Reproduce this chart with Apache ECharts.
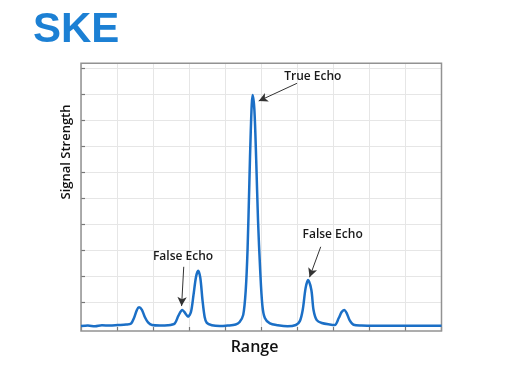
<!DOCTYPE html>
<html>
<head>
<meta charset="utf-8">
<script src="https://cdn.jsdelivr.net/npm/echarts@6/dist/echarts.min.js"></script>
<style>
html,body{margin:0;padding:0;background:#fff;}
#c{width:510px;height:380px;}
</style>
</head>
<body>
<div id="c"></div>
<script>
// Range positions (grid units 0..10)
const rangeX = [0,0.19,0.39,0.58,0.80,1.02,1.25,1.39,1.47,1.55,1.61,1.69,1.77,1.86,1.97,2.19,2.41,2.60,2.70,2.81,2.89,2.97,3.05,3.12,3.19,3.25,3.31,3.37,3.43,3.49,3.63,3.85,4.07,4.29,4.40,4.50,4.57,4.62,4.67,4.71,4.76,4.81,4.86,4.91,4.97,5.03,5.10,5.24,5.46,5.73,5.96,6.07,6.15,6.23,6.30,6.39,6.45,6.54,6.68,6.90,7.04,7.15,7.23,7.30,7.37,7.45,7.56,7.78,8.14,8.56,9.11,9.67,10];
// Signal strength values
const signal = [0.19,0.21,0.18,0.22,0.21,0.23,0.25,0.29,0.50,0.81,0.91,0.81,0.54,0.33,0.23,0.21,0.22,0.29,0.58,0.81,0.69,0.55,0.73,1.38,2.08,2.32,2.04,1.19,0.54,0.31,0.22,0.19,0.21,0.25,0.35,0.62,1.58,3.12,5.69,7.73,9.08,8.50,6.58,4.27,2.35,1.00,0.50,0.29,0.22,0.18,0.23,0.38,0.81,1.65,1.96,1.58,0.81,0.42,0.31,0.25,0.23,0.50,0.73,0.81,0.69,0.42,0.24,0.21,0.20,0.20,0.20,0.20,0.20];
// Annotations
const annoLabels = ['True Echo','False Echo','False Echo'];
const annoText = [[6.43,9.78],[2.83,2.86],[6.98,3.72]];
const annoArrowFrom = [[5.99,9.53],[2.85,2.47],[6.65,3.24]];
const annoArrowTo = [[4.93,8.85],[2.79,0.96],[6.34,2.07]];
// Titles
const logoText = 'SKE';
const xTitle = 'Range';
const yTitle = 'Signal Strength';

const chart = echarts.init(document.getElementById('c'), null, {renderer:'canvas'});
const font = '"Open Sans", "Noto Sans", sans-serif';
const seriesData = rangeX.map((x,i)=>[x, signal[i]]);

chart.setOption({
  animation:false,
  backgroundColor:'#ffffff',
  graphic:[
    {type:'text', left:33, top:9,
     style:{text:logoText, fill:'#1c80d4', font:'bold 42px "Liberation Sans", Arial, sans-serif'}},
    {type:'text', x:254.5, y:347,
     style:{text:xTitle, fill:'#111', align:'center', verticalAlign:'middle',
            font:'600 16px "Open Sans", "Noto Sans", sans-serif'}},
    {type:'text', x:66.5, y:152, rotation:Math.PI/2,
     style:{text:yTitle, fill:'#111', align:'center', verticalAlign:'middle',
            font:'600 13px "Open Sans", "Noto Sans", sans-serif'}}
  ],
  grid:[
    {left:81, right:68.5, top:63.3, bottom:49, show:true, borderColor:'#929292', borderWidth:1.5, backgroundColor:'transparent', z:3},
    {left:81, right:68.5, top:68.3, bottom:77.7, show:false}
  ],
  xAxis:[
    {type:'value', gridIndex:0, min:0, max:10, interval:1,
     axisLine:{show:false}, axisLabel:{show:false},
     axisTick:{show:true, inside:true, length:4, lineStyle:{color:'#777', width:1.2}},
     splitLine:{show:true, lineStyle:{color:'#e6e6e6', width:1}}},
    {type:'value', gridIndex:1, min:0, max:10, show:false}
  ],
  yAxis:[
    {type:'value', gridIndex:0, min:0, max:10.3,
     axisLine:{show:false}, axisLabel:{show:false}, axisTick:{show:false},
     splitLine:{show:false}},
    {type:'value', gridIndex:1, min:0, max:9, interval:1,
     axisLine:{show:false}, axisLabel:{show:false},
     axisTick:{show:true, inside:true, length:4, lineStyle:{color:'#777', width:1.2}},
     splitLine:{show:true, lineStyle:{color:'#e6e6e6', width:1}}}
  ],
  series:[{
    type:'line', xAxisIndex:0, yAxisIndex:0,
    data:seriesData, smooth:0.3, showSymbol:false, symbol:'none',
    lineStyle:{color:'#1b6fc6', width:2.5},
    z:5,
    markLine:{
      silent:true, symbol:['none','arrow'], symbolSize:[7,9],
      lineStyle:{color:'#333', width:1, type:'solid'},
      label:{show:false},
      data: annoArrowFrom.map((f,i)=>[{coord:f},{coord:annoArrowTo[i]}])
    },
    markPoint:{
      silent:true,
      data: annoText.map((c,i)=>({coord:c, symbol:'circle', symbolSize:0,
        label:{show:true, position:'inside', formatter:annoLabels[i],
          fontFamily:font, fontSize:12, fontWeight:600, color:'#1a1a1a'}}))
    }
  }]
});
</script>
</body>
</html>
